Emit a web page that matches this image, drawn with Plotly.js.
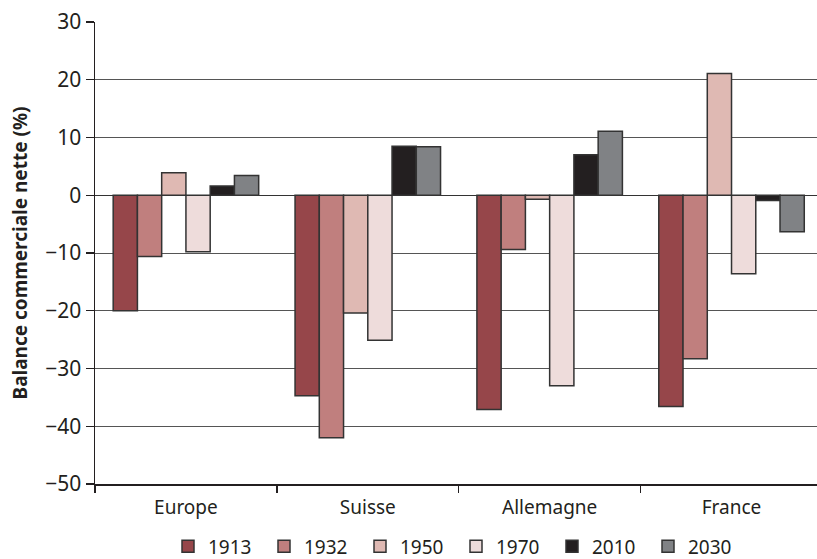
<!DOCTYPE html>
<html>
<head>
<meta charset="utf-8">
<script src="https://cdn.plot.ly/plotly-3.0.1.min.js"></script>
<style>html,body{margin:0;padding:0;background:#fff;overflow:hidden}</style>
</head>
<body>
<div id="chart" style="width:817px;height:559px"></div>
<script>
const categories = ["Europe", "Suisse", "Allemagne", "France"];
const years = ["1913", "1932", "1950", "1970", "2010", "2030"];
const v1913 = [-20.0, -34.7, -37.1, -36.6];
const v1932 = [-10.6, -42.0, -9.4, -28.3];
const v1950 = [3.9, -20.4, -0.7, 21.1];
const v1970 = [-9.8, -25.1, -33.0, -13.6];
const v2010 = [1.6, 8.5, 7.0, -0.9];
const v2030 = [3.4, 8.4, 11.1, -6.3];
const colors = ["#96464a", "#c07f7e", "#dfb9b3", "#eedcdb", "#231f20", "#808285"];
const yTicks = [30, 20, 10, 0, -10, -20, -30, -40, -50];
const yTickText = ["30", "20", "10", "0", "\u221210", "\u221220", "\u221230", "\u221240", "\u221250"];

const series = [v1913, v1932, v1950, v1970, v2010, v2030];
const font = "Noto Sans, Open Sans, sans-serif";
const traces = series.map((vals, i) => ({
  type: "bar",
  name: years[i],
  x: categories,
  y: vals,
  marker: {color: colors[i], line: {color: "#333333", width: 1.5}},
  hoverinfo: "skip"
}));

const layout = {
  width: 817, height: 559,
  margin: {l: 95, r: 0, t: 22, b: 75, autoexpand: false},
  paper_bgcolor: "#ffffff", plot_bgcolor: "#ffffff",
  barmode: "group", bargap: 0.2, bargroupgap: 0,
  font: {family: font, size: 19, color: "#231f20"},
  xaxis: {
    type: "category",
    range: [-0.5, 3.47],
    showline: true, linecolor: "#231f20", linewidth: 1.5,
    ticks: "outside", tickson: "boundaries", ticklen: 7, tickcolor: "#231f20", tickwidth: 1.5,
    ticklabelstandoff: 6,
    showgrid: false, zeroline: false,
    tickfont: {family: font, size: 19, color: "#231f20"}
  },
  yaxis: {
    range: [-50, 30],
    tickvals: yTicks, ticktext: yTickText,
    showline: true, linecolor: "#231f20", linewidth: 1.5,
    ticks: "outside", ticklen: 8, tickcolor: "#231f20", tickwidth: 1.2,
    showgrid: true, gridcolor: "#555555", gridwidth: 1,
    zeroline: true, zerolinecolor: "#333333", zerolinewidth: 1,
    tickfont: {family: font, size: 21, color: "#231f20"},
    title: {text: "<b>Balance commerciale nette (%)</b>", font: {family: font, size: 19, color: "#231f20"}, standoff: 12}
  },
  legend: {
    orientation: "h", x: 0.5, xanchor: "center", y: -0.135, yanchor: "middle",
    font: {family: font, size: 19, color: "#231f20"},
    itemwidth: 30, tracegroupgap: 0,
    entrywidth: 51, entrywidthmode: "pixels"
  },
  showlegend: true
};

Plotly.newPlot("chart", traces, layout, {staticPlot: true, displayModeBar: false});
</script>
</body>
</html>
